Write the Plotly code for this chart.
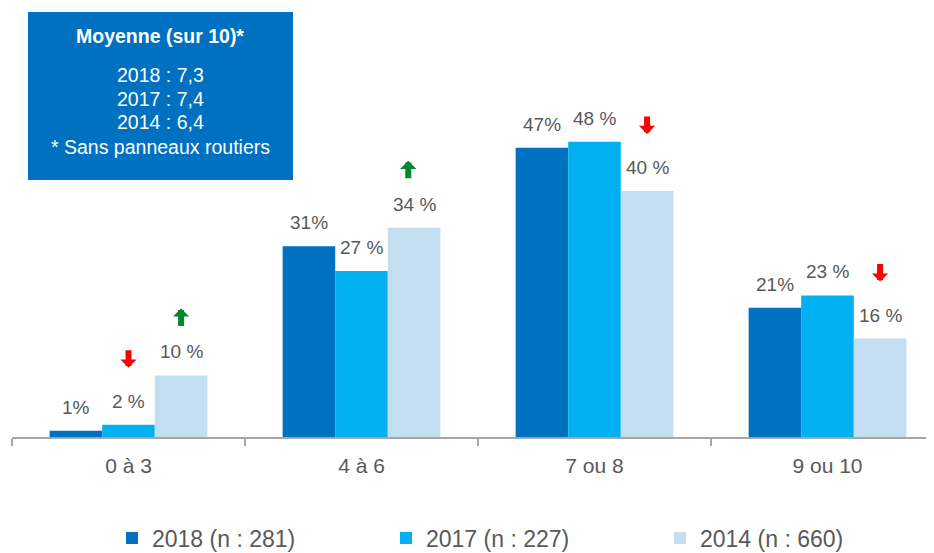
import plotly.graph_objects as go

categories = ["0 à 3", "4 à 6", "7 ou 8", "9 ou 10"]
series_names = ["2018 (n : 281)", "2017 (n : 227)", "2014 (n : 660)"]
values_2018 = [1, 31, 47, 21]
values_2017 = [2, 27, 48, 23]
values_2014 = [10, 34, 40, 16]
labels_2018 = ["1%", "31%", "47%", "21%"]
labels_2017 = ["2 %", "27 %", "48 %", "23 %"]
labels_2014 = ["10 %", "34 %", "40 %", "16 %"]
colors = ["#0070C0", "#00B0F0", "#C3DEF0"]
# trend arrows: (category index, series index, direction)
trend_arrows = [(0, 1, "down"), (0, 2, "up"), (1, 2, "up"), (2, 2, "down"), (3, 2, "down")]
box_title = "Moyenne (sur 10)*"
box_lines = ["2018 : 7,3", "2017 : 7,4", "2014 : 6,4", "* Sans panneaux routiers"]

FONT = "Liberation Sans, Arial, sans-serif"
GREY = "#595959"

# page body has an 8px margin; figure sized to fit the window exactly
W, H = 926, 545
L, T = 4, 2
PW, PH = 922, 427
B = H - T - PH
CAT_W = 233.0  # pixel width of one category in the reference
X_MAX = -0.5 + PW / CAT_W


def px_x(sx):  # screen x -> paper
    return (sx - 8 - L) / PW


def px_y(sy):  # screen y -> paper
    return (T + PH - (sy - 8)) / PH


all_values = [values_2018, values_2017, values_2014]
all_labels = [labels_2018, labels_2017, labels_2014]

fig = go.Figure()
for name, vals, col in zip(series_names, all_values, colors):
    fig.add_trace(go.Bar(x=categories, y=vals, name=name, marker_color=col,
                         marker_line_width=0, hoverinfo="skip"))

bargap = 0.323
bw = (1 - bargap) / 3
offsets = [-bw, 0, bw]
YMAX = 69.4
px_per_unit = PH / YMAX

annotations = []
for s, (vals, labs) in enumerate(zip(all_values, all_labels)):
    for i, (v, lab) in enumerate(zip(vals, labs)):
        annotations.append(dict(x=i + offsets[s], y=v, xref="x", yref="y", text=lab,
                                showarrow=False, yanchor="bottom", yshift=11,
                                font=dict(family=FONT, size=19, color=GREY)))

for ci, si, d in trend_arrows:
    v = all_values[si][ci]
    if d == "up":
        tip = v + 67 / px_per_unit
        ay, col = 19, "#00882A"
    else:
        tip = v + 57 / px_per_unit
        ay, col = -19, "#FF0000"
    annotations.append(dict(x=ci + offsets[si] - (0.025 if ci == 1 else 0), y=tip, xref="x", yref="y",
                            text="", showarrow=True, ax=0, ay=ay, axref="pixel", ayref="pixel",
                            arrowhead=1, arrowsize=0.45, arrowwidth=6, arrowcolor=col,
                            standoff=0, startstandoff=0))

# info box text
box_x = px_x(160)
annotations.append(dict(x=box_x, y=px_y(36), xref="paper", yref="paper", xanchor="center",
                        yanchor="middle", text="<b>" + box_title + "</b>", showarrow=False,
                        font=dict(family=FONT, size=19.5, color="white")))
for k, line in enumerate(box_lines):
    ypx = [75, 99, 122, 147][k]
    annotations.append(dict(x=box_x, y=px_y(ypx), xref="paper", yref="paper", xanchor="center",
                            yanchor="middle", text=line, showarrow=False,
                            font=dict(family=FONT, size=19.5, color="white")))

fig.update_layout(
    width=W, height=H,
    margin=dict(l=L, r=0, t=T, b=B, autoexpand=False),
    paper_bgcolor="white", plot_bgcolor="white",
    barmode="group", bargap=bargap, bargroupgap=0,
    font=dict(family=FONT, color=GREY),
    xaxis=dict(range=[-0.5, X_MAX], showline=True, linecolor="#A6A6A6", linewidth=2, ticks="outside",
               tickson="boundaries", ticklen=7, tickcolor="#A6A6A6", tickwidth=2,
               ticklabelstandoff=9,
               tickfont=dict(family=FONT, size=21, color=GREY), showgrid=False),
    yaxis=dict(range=[0, YMAX], visible=False, showgrid=False),
    showlegend=True,
    legend=dict(orientation="h", x=px_x(112), xanchor="left", y=px_y(538), yanchor="middle",
                entrywidth=229, entrywidthmode="pixels",
                font=dict(family=FONT, size=23, color=GREY), traceorder="normal"),
    shapes=[dict(type="rect", xref="paper", yref="paper",
                 x0=px_x(28), x1=px_x(293), y0=px_y(180), y1=px_y(12),
                 fillcolor="#0070C0", line=dict(width=0), layer="below")],
    annotations=annotations,
)

fig.write_html("out.html")
